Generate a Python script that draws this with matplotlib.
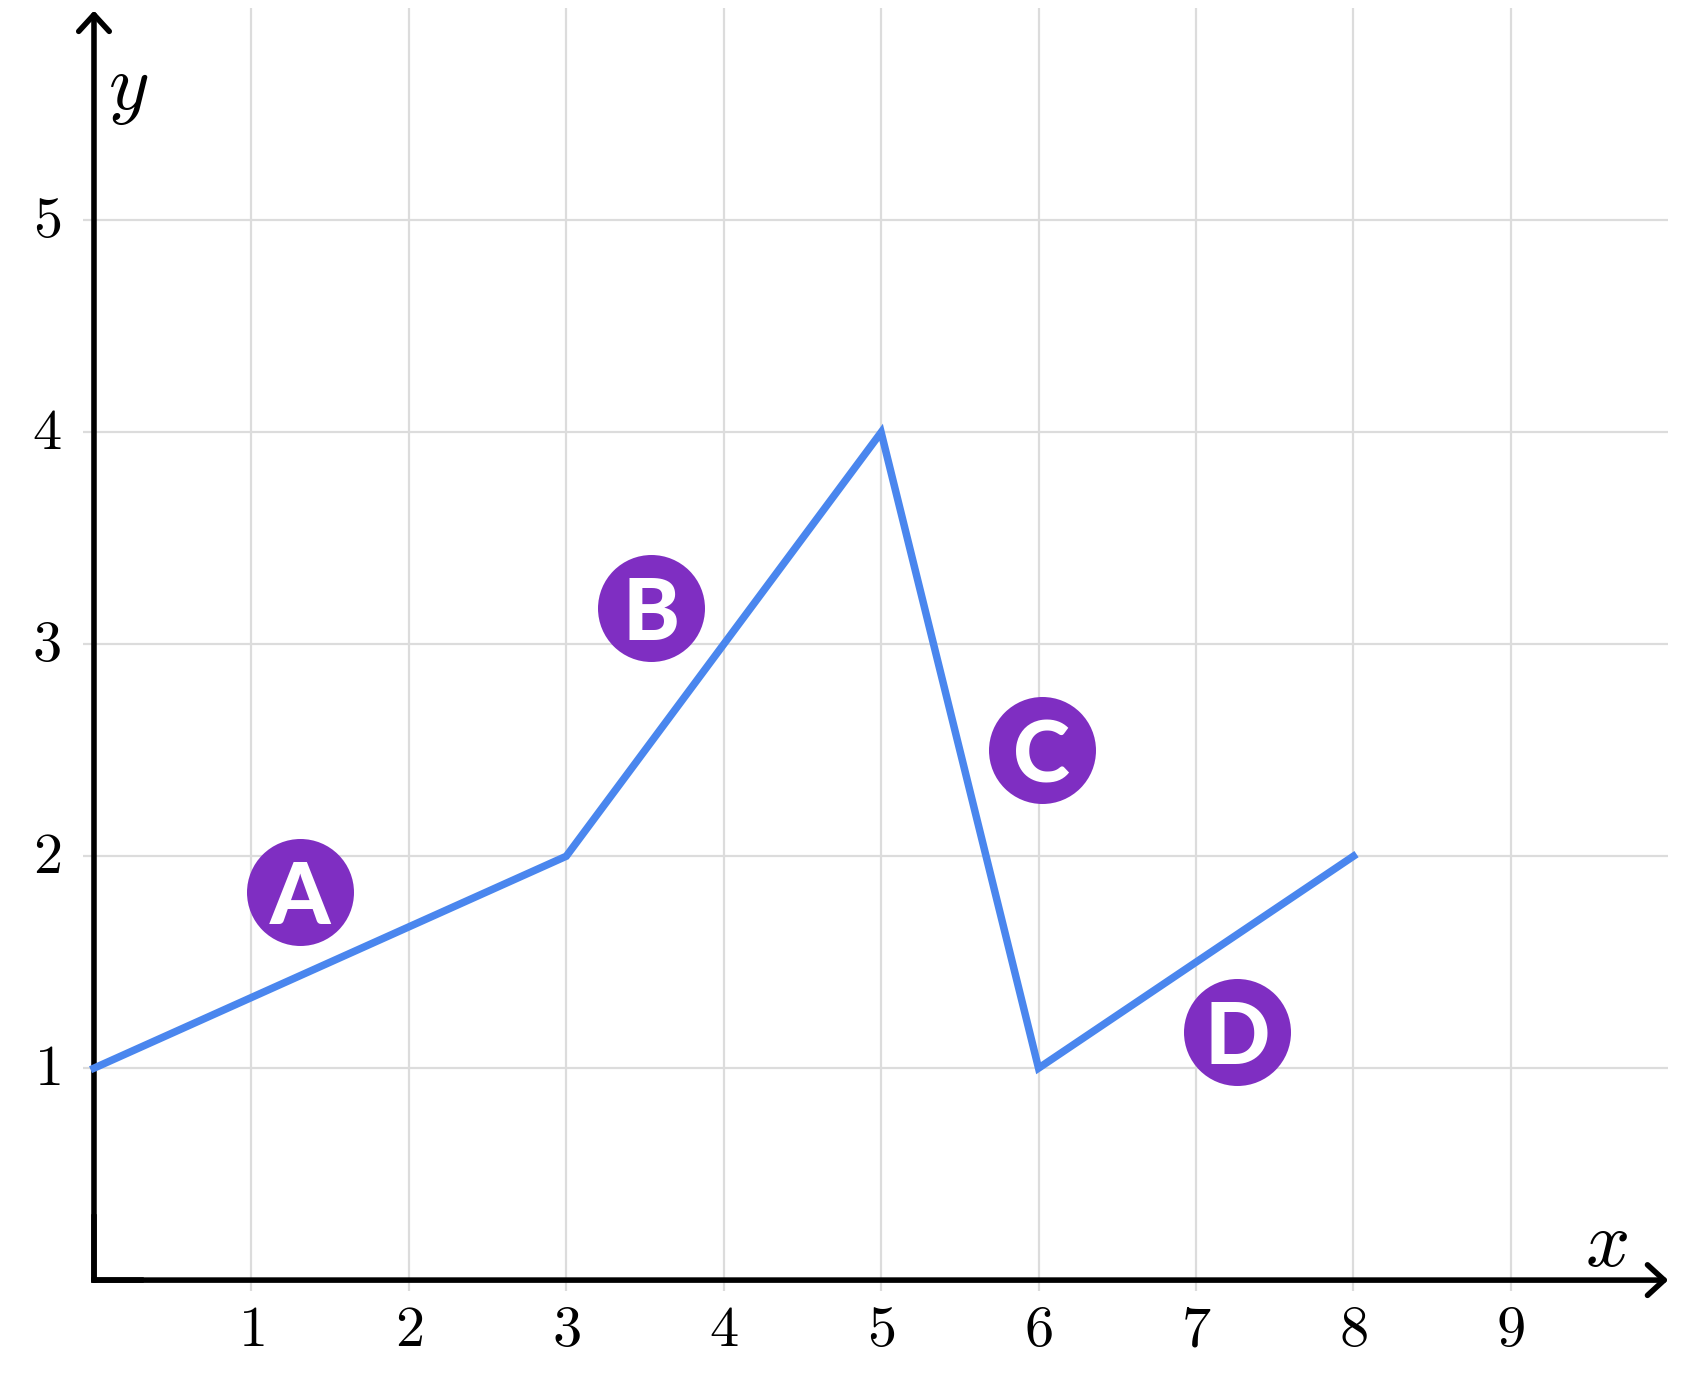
import matplotlib
matplotlib.use('Agg')
import matplotlib.pyplot as plt

plt.rcParams['mathtext.fontset'] = 'cm'

# data
line_x = [0, 3, 5, 6, 8]
line_y = [1, 2, 4, 1, 2]
x_ticks = [1, 2, 3, 4, 5, 6, 7, 8, 9]
y_ticks = [1, 2, 3, 4, 5]
badge_labels = ['A', 'B', 'C', 'D']
badge_x = [1.31, 3.54, 6.02, 7.26]
badge_y = [1.83, 3.17, 2.50, 1.17]

fig = plt.figure(figsize=(16.84, 13.92), dpi=100)
ax = fig.add_axes([0, 0, 1, 1])
ax.set_xlim(-0.597, 10.10)
ax.set_ylim(-0.528, 6.04)
ax.axis('off')

grid_kw = dict(color='#dcdcdc', lw=1.6, zorder=1, solid_capstyle='butt')
for x in x_ticks:
    ax.plot([x, x], [-0.05, 6.0], **grid_kw)
for y in y_ticks:
    ax.plot([-0.07, 10.0], [y, y], **grid_kw)

# axes with arrows
arrow_kw = dict(arrowstyle='->,head_length=0.6,head_width=0.55', lw=4.0, color='black',
                shrinkA=0, shrinkB=0, mutation_scale=20, capstyle='round', joinstyle='round')
ax.annotate('', xy=(0, 5.99), xytext=(0, 0), arrowprops=arrow_kw, zorder=3)
ax.annotate('', xy=(10.0, 0), xytext=(0, 0), arrowprops=arrow_kw, zorder=3)
ax.plot([0, 0.3], [0, 0], color='black', lw=4.0, zorder=3, solid_capstyle='projecting')
ax.plot([0, 0], [0, 0.3], color='black', lw=4.0, zorder=3, solid_capstyle='projecting')

for x in x_ticks:
    ax.text(x, -0.235, f'${x}$', fontsize=42, ha='center', va='center')
for y in y_ticks:
    ax.text(-0.3, y, f'${y}$', fontsize=42, ha='center', va='center')

ax.text(0.215, 5.62, '$y$', fontsize=56, ha='center', va='center')
ax.text(9.61, 0.17, '$x$', fontsize=56, ha='center', va='center')

ax.plot(line_x, line_y, color='#4a86ee', lw=5.4, zorder=4, solid_joinstyle='miter')

for lab, bx, by in zip(badge_labels, badge_x, badge_y):
    ax.scatter([bx], [by], s=(2 * 53.5 * 0.72) ** 2, color='#7f2ec2', zorder=5, linewidths=0)
    ax.text(bx, by, lab, fontsize=62, color='white', fontweight='black', family='Lato',
            ha='center', va='center_baseline', zorder=6)

fig.savefig('out.png', dpi=100)
